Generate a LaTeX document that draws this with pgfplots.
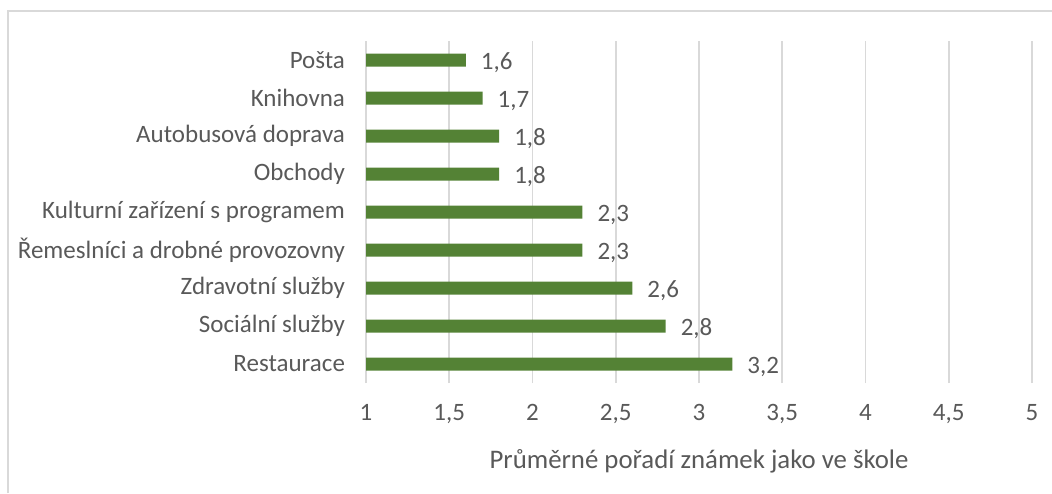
\documentclass[border=0pt]{standalone}
\usepackage{pgfplots}
\pgfplotsset{compat=1.18}
\usepackage{fontspec}
\setmainfont{Carlito}
\definecolor{bargreen}{HTML}{548235}
\definecolor{gridgray}{HTML}{D9D9D9}
\definecolor{txtgray}{HTML}{595959}
\begin{document}
\begin{tikzpicture}
\path[use as bounding box] (0,0) rectangle (526pt,246.5pt);
\draw[gridgray, line width=0.8pt] (4pt,0) -- (4pt,241pt) -- (526pt,241pt);
\begin{axis}[
  at={(183pt,55pt)}, anchor=south west,
  scale only axis, width=333pt, height=171pt,
  xbar, bar width=6.5pt,
  xmin=1, xmax=5, ymin=-0.5, ymax=8.5,
  xtick={1,1.5,...,5},
  ytick={0,...,8},
  yticklabels={Restaurace,Sociální služby,Zdravotní služby,Řemeslníci a drobné provozovny,Kulturní zařízení s programem,Obchody,Autobusová doprava,Knihovna,Pošta},
  axis line style={draw=none},
  major tick length=0pt,
  xmajorgrids, grid style={gridgray, line width=0.8pt},
  /pgf/number format/assume math mode=true,
  /pgf/number format/use comma,
  /pgf/number format/1000 sep={},
  tick label style={font=\fontsize{12.5}{14}\selectfont, text=txtgray},
  xticklabel style={yshift=-7pt},
  yticklabel style={xshift=-7pt},
  xlabel={Průměrné pořadí známek jako ve škole},
  xlabel style={font=\fontsize{13.4}{15}\selectfont, text=txtgray, yshift=-6pt},
  nodes near coords,
  nodes near coords style={font=\fontsize{12.5}{14}\selectfont, text=txtgray, anchor=west, xshift=4pt, yshift=-1.5pt,
    /pgf/number format/.cd, fixed, fixed zerofill, precision=1, use comma, assume math mode=true},
]
\addplot[fill=bargreen, draw=none] coordinates {
(3.2,0) (2.8,1) (2.6,2) (2.3,3) (2.3,4) (1.8,5) (1.8,6) (1.7,7) (1.6,8)};
\end{axis}
\end{tikzpicture}
\end{document}
